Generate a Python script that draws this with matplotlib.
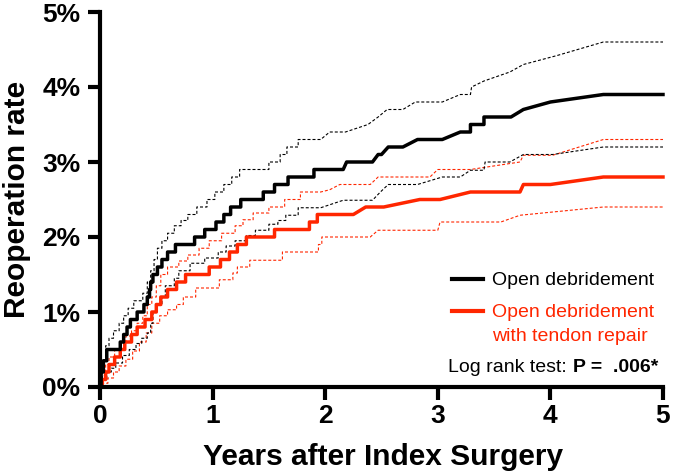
import numpy as np
import matplotlib
matplotlib.use("Agg")
import matplotlib.pyplot as plt

plt.rcParams['font.family'] = ['Liberation Sans', 'DejaVu Sans']

RED = '#FF2600'

# Kaplan-Meier style curves, (years, reoperation %)
# *_steps: jump events (drawn as stairs); *_tail: later part, joined point to point
od_steps = [(0, 0), (0.01, 0.2), (0.03, 0.35), (0.06, 0.5), (0.18, 0.6), (0.21, 0.7),
            (0.24, 0.8), (0.27, 0.9), (0.33, 1.0), (0.39, 1.1), (0.42, 1.2), (0.44, 1.3),
            (0.45, 1.4), (0.47, 1.5), (0.51, 1.6), (0.55, 1.7), (0.6, 1.8), (0.67, 1.9),
            (0.84, 2.0), (0.93, 2.1), (1.03, 2.2), (1.1, 2.3), (1.16, 2.4), (1.25, 2.5),
            (1.45, 2.6), (1.55, 2.7), (1.67, 2.8), (1.9, 2.9)]
od_tail = [(1.96, 2.9), (2.16, 2.9), (2.19, 3.0), (2.42, 3.0), (2.47, 3.1), (2.5, 3.1),
           (2.56, 3.2), (2.69, 3.2), (2.82, 3.3), (3.04, 3.3), (3.2, 3.4), (3.29, 3.4),
           (3.29, 3.5), (3.41, 3.5), (3.41, 3.6), (3.65, 3.6), (3.76, 3.7), (4.0, 3.8),
           (4.47, 3.9), (5.0, 3.9)]

od_hi_steps = [(0, 0), (0.02, 0.35), (0.05, 0.55), (0.08, 0.65), (0.12, 0.75), (0.17, 0.85),
               (0.21, 0.95), (0.25, 1.05), (0.3, 1.15), (0.38, 1.25), (0.42, 1.4), (0.45, 1.55),
               (0.48, 1.7), (0.51, 1.85), (0.55, 1.95), (0.6, 2.05), (0.66, 2.15), (0.72, 2.22),
               (0.78, 2.3), (0.86, 2.4), (0.95, 2.5), (1.02, 2.6), (1.1, 2.7), (1.17, 2.8),
               (1.24, 2.9), (1.5, 3.0), (1.6, 3.1), (1.66, 3.2), (1.76, 3.3)]
od_hi_tail = [(1.96, 3.3), (2.04, 3.4), (2.18, 3.4), (2.38, 3.5), (2.47, 3.6), (2.55, 3.7),
              (2.69, 3.7), (2.8, 3.8), (3.04, 3.8), (3.2, 3.9), (3.29, 3.9), (3.3, 4.0),
              (3.41, 4.08), (3.64, 4.2), (3.76, 4.3), (4.06, 4.42), (4.47, 4.6), (5.0, 4.6)]

od_lo_steps = [(0, 0), (0.03, 0.1), (0.06, 0.2), (0.1, 0.25), (0.14, 0.32), (0.2, 0.42),
               (0.26, 0.5), (0.32, 0.58), (0.37, 0.65), (0.42, 0.72), (0.45, 0.85), (0.47, 1.0),
               (0.5, 1.1), (0.55, 1.2), (0.58, 1.35), (0.66, 1.45), (0.7, 1.55), (0.8, 1.65),
               (0.93, 1.72), (1.05, 1.8), (1.12, 1.88), (1.2, 1.95), (1.3, 2.02), (1.38, 2.09),
               (1.5, 2.17), (1.58, 2.22), (1.65, 2.29), (1.76, 2.39)]
od_lo_tail = [(1.96, 2.39), (2.04, 2.43), (2.16, 2.49), (2.42, 2.49), (2.49, 2.6), (2.56, 2.7),
              (2.82, 2.7), (3.04, 2.8), (3.2, 2.8), (3.29, 2.89), (3.41, 2.89), (3.42, 3.0),
              (3.64, 3.0), (3.76, 3.1), (4.02, 3.1), (4.47, 3.2), (5.0, 3.2)]

tr_steps = [(0, 0), (0.02, 0.1), (0.05, 0.2), (0.08, 0.3), (0.13, 0.4), (0.18, 0.5),
            (0.22, 0.6), (0.28, 0.7), (0.33, 0.8), (0.4, 0.9), (0.46, 1.0), (0.5, 1.1),
            (0.54, 1.2), (0.6, 1.3), (0.68, 1.4), (0.76, 1.5), (0.97, 1.6), (1.07, 1.7),
            (1.15, 1.8), (1.22, 1.9), (1.3, 2.0), (1.55, 2.1), (1.86, 2.2), (1.93, 2.3)]
tr_tail = [(2.25, 2.3), (2.36, 2.4), (2.52, 2.4), (2.84, 2.5), (3.02, 2.5), (3.29, 2.6),
           (3.73, 2.6), (3.76, 2.7), (4.0, 2.7), (4.47, 2.8), (5.0, 2.8)]

tr_hi_steps = [(0, 0), (0.02, 0.15), (0.05, 0.3), (0.08, 0.4), (0.13, 0.5), (0.18, 0.6),
               (0.23, 0.68), (0.28, 0.75), (0.33, 0.85), (0.38, 0.95), (0.42, 1.1), (0.46, 1.2),
               (0.5, 1.35), (0.54, 1.5), (0.6, 1.6), (0.7, 1.68), (0.78, 1.76), (0.88, 1.85),
               (0.97, 1.95), (1.08, 2.05), (1.2, 2.15), (1.27, 2.23), (1.36, 2.32), (1.5, 2.4),
               (1.64, 2.5), (1.78, 2.6)]
tr_hi_tail = [(1.96, 2.6), (2.04, 2.63), (2.13, 2.7), (2.4, 2.7), (2.47, 2.8), (2.93, 2.8),
              (3.0, 2.9), (3.29, 2.9), (3.73, 3.0), (3.76, 3.09), (4.02, 3.09), (4.47, 3.3),
              (5.0, 3.3)]

tr_lo_steps = [(0, 0), (0.03, 0.05), (0.07, 0.12), (0.12, 0.2), (0.17, 0.28), (0.23, 0.37),
               (0.29, 0.48), (0.35, 0.6), (0.41, 0.72), (0.46, 0.85), (0.53, 0.95), (0.6, 1.03),
               (0.68, 1.1), (0.74, 1.2), (0.85, 1.32), (1.06, 1.43), (1.18, 1.52), (1.22, 1.6),
               (1.33, 1.69), (1.62, 1.8), (1.94, 1.9), (1.97, 2.0)]
tr_lo_tail = [(2.4, 2.0), (2.47, 2.09), (3.0, 2.09), (3.02, 2.2), (3.56, 2.2), (3.73, 2.29),
              (4.47, 2.4), (5.0, 2.4)]

xticks = [0, 1, 2, 3, 4, 5]
yticks = [0, 1, 2, 3, 4, 5]
ytick_labels = ['0%', '1%', '2%', '3%', '4%', '5%']


def curve(steps, tail):
    t, y = [], []
    for i, (ti, yi) in enumerate(steps):
        if i:
            t.append(ti)
            y.append(y[-1])
        t.append(ti)
        y.append(yi)
    for ti, yi in tail:
        t.append(ti)
        y.append(yi)
    return np.array(t), np.array(y)


fig = plt.figure(figsize=(6.74, 4.76), dpi=100)
ax = fig.add_axes([100 / 674, 89 / 476, 563 / 674, 375 / 476])

dash = dict(lw=0.8, dashes=(2.7, 1.8), solid_capstyle='butt')
for steps, tail in [(tr_hi_steps, tr_hi_tail), (tr_lo_steps, tr_lo_tail)]:
    ax.plot(*curve(steps, tail), color=RED, clip_on=False, **dash)
for steps, tail in [(od_hi_steps, od_hi_tail), (od_lo_steps, od_lo_tail)]:
    ax.plot(*curve(steps, tail), color='black', clip_on=False, **dash)
ax.plot(*curve(tr_steps, tr_tail), color=RED, lw=2.5, clip_on=False)
ax.plot(*curve(od_steps, od_tail), color='black', lw=2.5, clip_on=False)

ax.set_xlim(0, 5)
ax.set_ylim(0, 5)
ax.set_xticks(xticks)
ax.set_yticks(yticks)
ax.set_yticklabels(ytick_labels)
for s in ['top', 'right']:
    ax.spines[s].set_visible(False)
for s in ['left', 'bottom']:
    ax.spines[s].set_linewidth(3)
ax.tick_params(direction='out', length=9, width=3, labelsize=19)
ax.tick_params(axis='y', pad=5)
ax.tick_params(axis='x', pad=3)
for lab in ax.get_xticklabels() + ax.get_yticklabels():
    lab.set_fontweight('bold')

fig.text(25 / 674, (476 - 199.5) / 476, 'Reoperation rate', rotation=90,
         rotation_mode='anchor', ha='center', va='baseline',
         fontsize=21.5, fontweight='bold')
fig.text(383 / 674, (476 - 465) / 476, 'Years after Index Surgery',
         ha='center', va='baseline', fontsize=21.5, fontweight='bold')

# legend drawn by hand
tr = ax.transAxes
ax.plot([0.625, 0.680], [0.288, 0.288], color='black', lw=3, transform=tr, clip_on=False)
ax.plot([0.625, 0.680], [0.2027, 0.2027], color=RED, lw=3, transform=tr, clip_on=False)
ax.text(0.696, 0.272, 'Open debridement', transform=tr, fontsize=14, va='baseline')
ax.text(0.696, 0.1867, 'Open debridement', transform=tr, fontsize=14, va='baseline', color=RED)
ax.text(0.696, 0.1227, 'with tendon repair', transform=tr, fontsize=14, va='baseline', color=RED)
ptxt = ax.text(0.991, 0.04, 'P =  .006*', transform=tr, fontsize=14, va='baseline',
               ha='right', fontweight='bold')
ax.annotate('Log rank test: ', xy=(0, 0), xycoords=ptxt, ha='right', va='bottom', fontsize=14)

fig.savefig('out.png', dpi=100)
